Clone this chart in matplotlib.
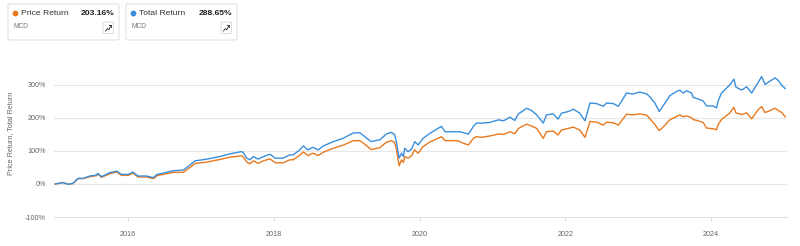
import pandas as pd
import numpy as np
import matplotlib
matplotlib.use('Agg')
import matplotlib.pyplot as plt
import matplotlib.dates as mdates
from matplotlib.patches import FancyBboxPatch
from matplotlib.lines import Line2D

plt.rcParams['font.family'] = ['Liberation Sans', 'DejaVu Sans']

# MCD price return vs total return (%)
dates = ['2015-01-02', '2015-02-10', '2015-03-08', '2015-04-01', '2015-04-26', '2015-05-22',
         '2015-06-25', '2015-07-28', '2015-08-03', '2015-08-22', '2015-10-02', '2015-11-06',
         '2015-11-30', '2016-01-04', '2016-01-26', '2016-02-21', '2016-04-04', '2016-05-08',
         '2016-05-26', '2016-07-05', '2016-08-14', '2016-10-05', '2016-10-31', '2016-12-03',
         '2017-01-30', '2017-04-06', '2017-05-26', '2017-07-24', '2017-08-01', '2017-08-19',
         '2017-09-03', '2017-09-21', '2017-10-15', '2017-11-10', '2017-12-13', '2018-01-08',
         '2018-02-17', '2018-03-22', '2018-04-08', '2018-05-11', '2018-05-29', '2018-06-21',
         '2018-07-16', '2018-08-11', '2018-09-06', '2018-10-26', '2018-12-14', '2019-02-03',
         '2019-03-08', '2019-03-25', '2019-05-04', '2019-06-17', '2019-07-19', '2019-08-13',
         '2019-08-29', '2019-09-07', '2019-09-21', '2019-10-03', '2019-10-12', '2019-10-19',
         '2019-11-04', '2019-11-22', '2019-12-08', '2019-12-25', '2020-01-19', '2020-02-22',
         '2020-04-05', '2020-04-20', '2020-05-08', '2020-07-05', '2020-07-22', '2020-08-08',
         '2020-09-02', '2020-09-27', '2020-10-12', '2020-11-07', '2020-12-18', '2021-01-31',
         '2021-02-25', '2021-03-29', '2021-04-22', '2021-05-11', '2021-06-21', '2021-07-16',
         '2021-08-10', '2021-09-12', '2021-09-28', '2021-11-01', '2021-11-25', '2021-12-12',
         '2022-01-15', '2022-02-10', '2022-03-14', '2022-04-09', '2022-05-04', '2022-06-07',
         '2022-07-09', '2022-07-26', '2022-08-29', '2022-09-23', '2022-10-08', '2022-11-03',
         '2022-12-06', '2023-01-08', '2023-02-13', '2023-03-01', '2023-03-25', '2023-04-16',
         '2023-05-15', '2023-06-08', '2023-07-12', '2023-07-28', '2023-08-14', '2023-08-31',
         '2023-09-25', '2023-10-03', '2023-10-28', '2023-11-22', '2023-12-09', '2024-01-11',
         '2024-01-28', '2024-02-05', '2024-02-22', '2024-04-04', '2024-04-24', '2024-05-04',
         '2024-06-02', '2024-06-27', '2024-07-22', '2024-08-24', '2024-09-10', '2024-09-27',
         '2024-10-22', '2024-11-16', '2024-12-03', '2024-12-20', '2025-01-06']

total_ret = [0, 4, -1, 2, 17, 17, 24, 27, 32, 22, 34, 39,
             29, 29, 36, 24, 24, 19, 29, 34, 40, 42, 54, 70,
             75, 83, 91, 98, 95, 78, 73, 83, 75, 83, 90, 78,
             78, 88, 88, 103, 115, 103, 111, 103, 115, 128, 138, 154,
             155, 147, 128, 134, 151, 156, 150, 128, 78, 93, 83, 108,
             98, 105, 128, 118, 138, 153, 169, 174, 158, 158, 158, 155,
             151, 174, 184, 184, 186, 194, 191, 202, 192, 212, 229, 222,
             209, 184, 209, 212, 196, 214, 219, 226, 214, 191, 245, 243,
             235, 245, 243, 235, 249, 275, 272, 278, 272, 263, 245, 219,
             245, 267, 280, 284, 275, 282, 275, 262, 257, 251, 236, 236,
             230, 251, 275, 300, 317, 293, 284, 294, 275, 308, 325, 301,
             311, 321, 313, 298, 288.65]

price_ret = [0, 4, -1, 1, 16, 16, 22, 25, 30, 20, 31, 36,
             26, 26, 33, 21, 21, 16, 25, 30, 35, 35, 47, 62,
             66, 74, 81, 85, 82, 66, 61, 70, 62, 70, 76, 64,
             64, 73, 73, 87, 97, 86, 93, 86, 96, 108, 117, 131,
             131, 124, 104, 110, 126, 131, 126, 105, 55, 73, 65, 83,
             78, 85, 103, 93, 113, 127, 139, 143, 131, 131, 128, 123,
             118, 138, 143, 141, 145, 151, 150, 158, 152, 168, 181, 175,
             168, 138, 158, 160, 148, 163, 168, 172, 163, 141, 189, 187,
             178, 187, 185, 178, 190, 211, 209, 212, 208, 197, 180, 161,
             178, 194, 204, 209, 203, 206, 200, 195, 191, 186, 169, 167,
             164, 180, 195, 215, 232, 215, 210, 215, 197, 225, 234, 216,
             222, 229, 222, 216, 203.16]

ticker = 'MCD'
ylabels = ['-100%', '0%', '100%', '200%', '300%']
yticks = [-100, 0, 100, 200, 300]

orange = '#e8791e'
blue = '#3a8fdc'

W, H = 800, 246
fig = plt.figure(figsize=(W / 100, H / 100), dpi=100)

def fx(x):
    return x / W

def fy(y):
    return 1 - y / H

ax = fig.add_axes([fx(54), fy(217), fx(787) - fx(54), fy(60) - fy(217)])
d = pd.to_datetime(dates)
ax.plot(d, price_ret, color=orange, linewidth=1.0, zorder=3)
ax.plot(d, total_ret, color=blue, linewidth=1.0, zorder=4)

ax.set_ylim(-100, 375)
ax.set_xlim(pd.Timestamp('2014-12-27'), pd.Timestamp('2025-01-15'))
ax.set_yticks(yticks)
ax.set_yticklabels(ylabels)
ax.grid(axis='y', color='#e6e6e6', linewidth=0.8, zorder=0)
ax.xaxis.set_major_locator(mdates.YearLocator(2, month=1, day=1))
ax.xaxis.set_major_formatter(mdates.DateFormatter('%Y'))
for s in ['top', 'right', 'left']:
    ax.spines[s].set_visible(False)
ax.spines['bottom'].set_color('#e0e0e0')
ax.spines['bottom'].set_linewidth(0.8)
ax.tick_params(axis='y', length=0, pad=6, labelsize=5.2, labelcolor='#666666')
ax.tick_params(axis='x', length=3, width=0.6, color='#ccd6eb', pad=7, labelsize=5.2, labelcolor='#666666')
ax.set_ylabel('Price Return, Total Return', fontsize=5.2, color='#666666')
ax.yaxis.set_label_coords((14 - 54) / (787 - 54), (217 - 133) / (217 - 60))

# legend cards at the top
cards = [(8, 119, orange, 'Price Return', '%.2f%%' % price_ret[-1]),
         (126, 237, blue, 'Total Return', '%.2f%%' % total_ret[-1])]
for x0, x1, col, name, val in cards:
    fig.patches.append(FancyBboxPatch((fx(x0), fy(40)), fx(x1 - x0), fy(4) - fy(40),
                                      boxstyle='round,pad=0,rounding_size=0.004',
                                      transform=fig.transFigure, facecolor='white',
                                      edgecolor='#dddddd', linewidth=0.7))
    fig.lines.append(Line2D([fx(x0 + 7)], [fy(13.3)], transform=fig.transFigure, marker='o',
                            markersize=4.2, markerfacecolor=col, markeredgecolor='none',
                            linestyle='none'))
    fig.text(fx(x0 + 13), fy(13.5), name, fontsize=6.1, color='#333333', va='center', ha='left')
    fig.text(fx(x1 - 4.5), fy(13.5), val, fontsize=6.1, color='#222222', va='center', ha='right',
             fontweight='bold')
    fig.text(fx(x0 + 5), fy(26), ticker, fontsize=4.8, color='#777777', va='center', ha='left')
    bx0, bx1 = x1 - 16, x1 - 5.5
    fig.patches.append(FancyBboxPatch((fx(bx0), fy(33.5)), fx(bx1 - bx0), fy(22) - fy(33.5),
                                      boxstyle='round,pad=0,rounding_size=0.003',
                                      transform=fig.transFigure, facecolor='white',
                                      edgecolor='#d5d5d5', linewidth=0.6))
    ix = [bx0 + 2.5, bx0 + 4.5, bx0 + 5.8, bx0 + 8]
    iy = [31, 28.5, 29.8, 25.5]
    fig.lines.append(Line2D([fx(v) for v in ix], [fy(v) for v in iy], transform=fig.transFigure,
                            color='#444444', linewidth=0.7))
    fig.lines.append(Line2D([fx(bx0 + 6.2), fx(bx0 + 8.2), fx(bx0 + 8.2)],
                            [fy(25.3), fy(25.3), fy(27.3)], transform=fig.transFigure,
                            color='#444444', linewidth=0.7))

fig.savefig('out.png', dpi=100)
